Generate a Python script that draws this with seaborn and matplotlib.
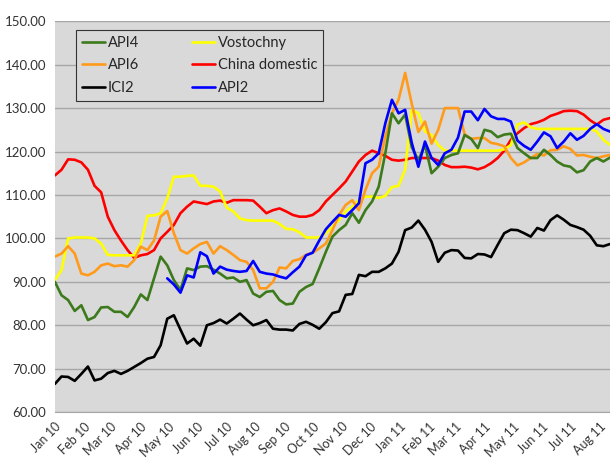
import numpy as np
import pandas as pd
import matplotlib
matplotlib.use("Agg")
import matplotlib.pyplot as plt
import matplotlib.dates as mdates
import seaborn as sns

# weekly index values, first week = 1 Jan 2010
start = "2010-01-01"

api4 = [90.0, 86.9, 85.8, 83.3, 84.6, 81.2, 81.9, 84.1, 84.2, 83.1, 83.1, 81.9, 84.2, 87.1, 85.8,
        90.8, 95.8, 93.8, 90.4, 88.1, 93.1, 92.7, 93.5, 93.6, 92.8, 91.9, 90.8, 91.0, 90.0,
        90.4, 87.3, 86.5, 87.7, 87.9, 85.8, 84.8, 85.0, 87.7, 88.8, 89.5, 93.1, 96.9, 100.4,
        101.9, 103.1, 105.8, 103.6, 106.5, 108.5, 111.9, 119.6, 128.8, 126.5, 128.5, 121.0, 118.0,
        121.5, 115.0, 116.5, 118.5, 119.2, 119.6, 123.8, 122.9, 120.8, 125.0, 124.6, 123.3, 123.9,
        124.1, 120.8, 119.6, 118.5, 118.5, 120.4, 119.2, 117.7, 116.8, 116.5, 115.2, 115.7, 117.7,
        118.5, 117.7, 118.6]

api6 = [95.8, 96.5, 98.2, 96.5, 91.9, 91.5, 92.3, 93.8, 94.2, 93.6, 93.8, 93.5, 95.0, 98.1, 97.3,
        99.5, 105.0, 106.3, 101.2, 97.3, 96.5, 97.7, 98.7, 99.2, 96.5, 98.2, 97.3, 96.2, 95.0,
        94.6, 92.7, 88.5, 88.5, 90.0, 93.3, 93.1, 94.8, 95.2, 96.2, 96.7, 97.7, 98.8, 101.9,
        105.4, 107.7, 108.8, 106.5, 111.2, 115.0, 116.5, 123.5, 128.8, 131.9, 138.1, 131.0, 124.5,
        126.9, 121.8, 125.0, 130.0, 130.0, 130.0, 124.0, 122.9, 123.1, 123.1, 122.0, 121.7, 121.2,
        118.5, 116.8, 117.5, 118.5, 119.4, 119.1, 120.3, 120.4, 121.2, 120.6, 119.1, 119.2, 118.8,
        118.5, 118.9, 119.2]

ici2 = [66.5, 68.2, 68.1, 67.2, 68.8, 70.5, 67.3, 67.7, 69.0, 69.5, 68.8, 69.5, 70.4, 71.3, 72.3,
        72.7, 75.4, 81.5, 82.3, 79.0, 75.8, 76.9, 75.3, 80.0, 80.5, 81.3, 80.4, 81.5, 82.7,
        81.3, 80.0, 80.5, 81.2, 79.2, 79.0, 79.0, 78.8, 80.3, 80.8, 80.1, 79.2, 80.7, 82.8,
        83.2, 87.0, 87.2, 91.6, 91.3, 92.3, 92.3, 93.1, 94.2, 96.9, 101.9, 102.5, 104.1,
        102.0, 99.2, 94.6, 96.7, 97.3, 97.2, 95.5, 95.4, 96.4, 96.3, 95.7, 98.5, 101.2,
        102.0, 101.9, 101.2, 100.4, 102.4, 101.8, 104.2, 105.3, 104.3, 103.1, 102.6, 102.0, 100.6,
        98.4, 98.2, 98.7]

vostochny = [90.4, 92.7, 100.0, 100.2, 100.2, 100.2, 100.0, 98.8, 96.2, 96.1, 96.1, 96.1, 96.1,
             98.8, 105.2, 105.3, 105.8, 109.2, 114.2, 114.2, 114.4, 114.5, 112.1, 112.1, 111.9,
             110.8, 107.1, 106.2, 104.6,
             104.2, 104.1, 104.1, 104.1, 104.1, 103.3, 102.2, 102.1, 101.4, 100.2, 100.2, 100.2,
             101.2, 102.7, 104.2, 106.2, 107.3, 108.8, 109.6, 109.6, 109.3, 109.8, 111.8, 112.1,
             115.8, 129.6, 128.8,
             124.6, 123.8, 121.5, 120.2, 120.2, 120.2, 120.2, 120.2, 120.2, 120.2, 120.2, 120.2,
             120.5, 121.5, 126.2, 126.7, 125.6, 125.2, 125.2, 125.2, 125.2, 125.2, 125.2, 125.2,
             125.2, 125.2, 124.6, 122.7, 121.5]

china = [114.5, 115.8, 118.2, 118.1, 117.5, 115.8, 112.1, 110.6, 105.0, 101.9, 99.5, 97.3, 95.5,
         96.1, 96.4, 97.3, 100.0, 101.5, 103.1, 105.8, 107.3, 108.5, 108.2, 107.9, 108.5, 108.7,
         108.2, 108.8, 108.8,
         108.8, 108.7, 107.3, 105.8, 106.5, 106.9, 106.2, 105.4, 105.0, 105.0, 105.4, 106.5,
         108.5, 110.0, 111.5, 113.1, 115.4, 117.7, 119.2, 120.2, 119.6, 119.0, 118.1, 117.9,
         118.1, 118.5, 118.5,
         118.5, 118.5, 117.9, 116.9, 116.4, 116.4, 116.5, 116.3, 115.9, 116.4, 117.3, 118.5,
         120.2, 122.7, 124.2, 125.4, 126.3, 126.7, 127.3, 128.2, 128.7, 129.3, 129.4, 129.3,
         128.5, 127.2, 126.2, 127.3, 127.7]

# API2 series starts in week 17 (30 Apr 2010)
api2_start = "2010-04-30"
api2 = [90.8, 89.4, 87.5, 91.5, 91.0, 96.8, 95.9, 91.9, 93.5, 92.8, 92.5, 92.3,
        92.5, 94.8, 92.3, 91.9, 91.7, 91.2, 90.8, 92.2, 93.5, 96.1, 96.7, 99.5, 102.1, 103.8,
        105.4, 105.0, 106.5, 108.1, 117.3, 118.1, 119.6, 126.5, 131.9, 128.8, 129.6, 122.0, 116.5,
        122.3, 118.5, 116.9, 119.6, 120.4, 123.2, 129.2, 129.2, 127.2, 129.8, 128.1, 127.5, 127.5,
        126.9, 122.5, 121.3, 120.4, 122.3, 124.4, 123.5, 120.8, 122.3, 124.2, 122.7, 123.6, 125.2,
        126.3, 125.2, 124.6]

series = {
    "API4": (start, api4),
    "API6": (start, api6),
    "ICI2": (start, ici2),
    "Vostochny": (start, vostochny),
    "China domestic": (start, china),
    "API2": (api2_start, api2),
}
colors = {
    "API4": "#3c7a1c",
    "API6": "#ff9a1a",
    "ICI2": "#000000",
    "Vostochny": "#ffff00",
    "China domestic": "#ff0000",
    "API2": "#0000ff",
}

frames = []
for name, (s, vals) in series.items():
    frames.append(pd.DataFrame({
        "date": pd.date_range(s, periods=len(vals), freq="7D"),
        "value": vals,
        "series": name,
    }))
df = pd.concat(frames, ignore_index=True)

sns.set_style("white", rc={"axes.facecolor": "#d9d9d9"})
plt.rcParams["font.family"] = ["Lato", "DejaVu Sans"]

fig = plt.figure(figsize=(6.1, 4.61), dpi=100)
ax = fig.add_axes([0.090, 0.106, 0.910, 0.848])

draw_order = ["ICI2", "China domestic", "Vostochny", "API6", "API4", "API2"]
for name in draw_order:
    sub = df[df["series"] == name]
    sns.lineplot(data=sub, x="date", y="value", color=colors[name], lw=1.9,
                 ax=ax, label=name, legend=False)

ax.set_ylim(60, 150)
ax.set_yticks(np.arange(60, 151, 10))
ax.yaxis.set_major_formatter(matplotlib.ticker.FormatStrFormatter("%.2f"))
ax.set_xlim(pd.Timestamp("2010-01-01"), pd.Timestamp("2011-08-12"))
ax.xaxis.set_major_locator(mdates.MonthLocator())
ax.xaxis.set_major_formatter(mdates.DateFormatter("%b %y"))
ax.set_xlabel("")
ax.set_ylabel("")

ax.grid(axis="y", color="#a6a6a6", lw=1.0)
ax.grid(axis="x", visible=False)
ax.set_axisbelow(True)
for sp in ["top", "right", "left"]:
    ax.spines[sp].set_visible(False)
ax.spines["bottom"].set_color("#a6a6a6")

ax.tick_params(axis="both", which="major", labelsize=9.5, colors="#a6a6a6",
               labelcolor="#333333", length=4, width=0.8, direction="out")
ax.tick_params(axis="y", length=3)
ax.tick_params(axis="x", labelsize=9, pad=2)
plt.setp(ax.get_xticklabels(), rotation=45, ha="right", rotation_mode="anchor")

handles, labels = ax.get_legend_handles_labels()
lookup = dict(zip(labels, handles))
legend_order = ["API4", "API6", "ICI2", "Vostochny", "China domestic", "API2"]
leg = ax.legend([lookup[n] for n in legend_order], legend_order, ncol=2,
                loc="upper left", bbox_to_anchor=(0.038, 0.978), fontsize=10.5,
                frameon=True, fancybox=False, framealpha=1, edgecolor="#333333",
                handlelength=1.6, handletextpad=0.2, columnspacing=3.6,
                labelspacing=0.6, borderpad=0.4, borderaxespad=0)
leg.get_frame().set_linewidth(0.8)

fig.savefig("out.png", dpi=100)
